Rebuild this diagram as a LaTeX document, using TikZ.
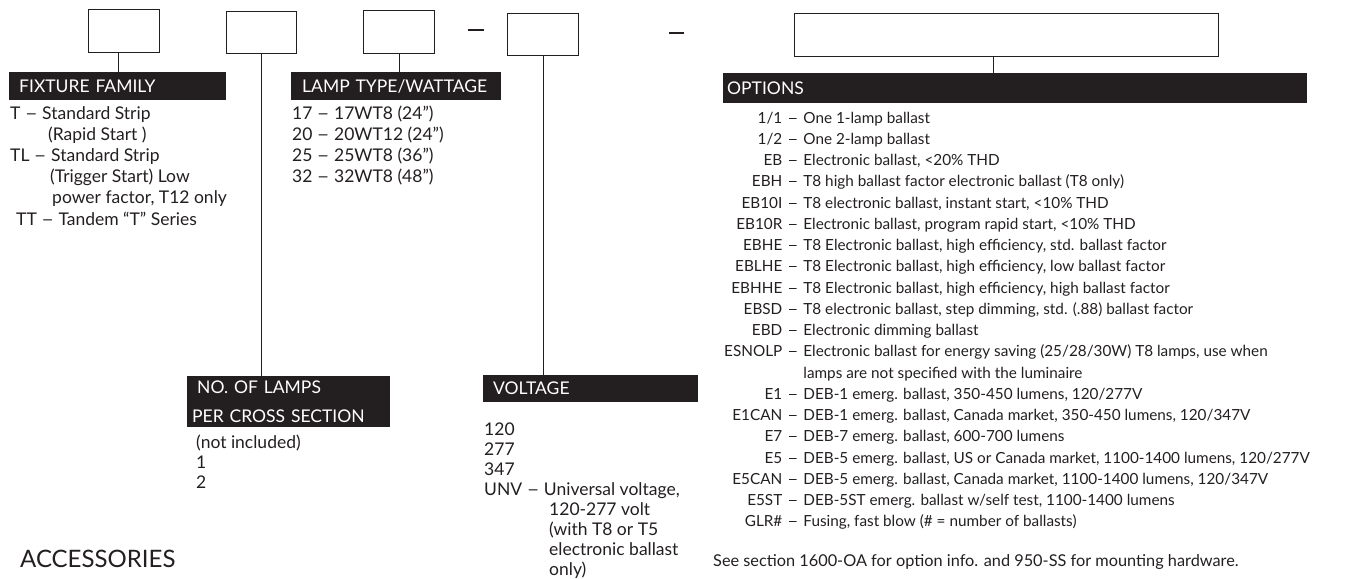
\documentclass[tikz,border=0pt]{standalone}
\usepackage{fontspec}
\setmainfont{Lato}
\usetikzlibrary{positioning}
\definecolor{ink}{HTML}{231F20}
\newcommand{\headfont}{\fontsize{17.5}{20}\selectfont}
\newcommand{\listfont}{\fontsize{17.5}{21.2}\selectfont}
\newcommand{\ndash}{\scalebox{1.25}[1]{--}}

\begin{document}
\begin{tikzpicture}[x=1pt,y=-1pt,
  codebox/.style={draw=ink,line width=1.2pt,anchor=north west,inner sep=0pt},
  headbar/.style={fill=ink,text=white,anchor=north west,inner ysep=0pt,minimum height=28pt,align=left,font=\headfont},
  listtext/.style={anchor=base west,inner sep=0pt,text=ink,font=\listfont},
  link/.style={draw=ink,line width=1.2pt}]
\useasboundingbox (0,0) rectangle (1364,578);

% code boxes
\node[codebox,minimum width=71pt,minimum height=43pt] (fambox) at (88,9) {};
\node[codebox,minimum width=70pt,minimum height=42pt] (lampsbox) at (226,11) {};
\node[codebox,minimum width=71pt,minimum height=43pt] (typebox) at (363,10) {};
\node[codebox,minimum width=71pt,minimum height=42pt] (voltbox) at (507,13) {};
\node[codebox,minimum width=424pt,minimum height=43pt] (optbox) at (794,13) {};
\draw[link,line width=1.5pt] (468,30) -- (484,30);
\draw[link,line width=1.5pt] (669,33) -- (684,33);

% headings
\node[headbar,inner xsep=10pt,text width=197pt] (famhead) at (9,72) {FIXTURE FAMILY};
\node[headbar,inner xsep=11pt,text width=188pt] (typehead) at (291,72) {LAMP TYPE/WATTAGE};
\node[headbar,inner xsep=4pt,text width=576pt,minimum height=30pt] (opthead) at (723,73) {OPTIONS};
\node[headbar,inner xsep=5pt,text width=193pt,minimum height=51pt,font={\fontsize{17.5}{29}\selectfont}] (lampshead) at (187,376) {\hspace*{5pt}NO. OF LAMPS\\PER CROSS SECTION};
\node[headbar,inner xsep=10pt,text width=195pt,minimum height=27pt] (volthead) at (483,375) {VOLTAGE};

% connectors
\draw[link] ([xshift=-6pt]fambox.south) -- ([xshift=-6pt]fambox.south |- famhead.north);
\draw[link] (lampsbox.south) -- (lampsbox.south |- lampshead.north);
\draw[link] (typebox.south) -- (typebox.south |- typehead.north);
\draw[link] (voltbox.south) -- (voltbox.south |- volthead.north);
\draw[link] ([xshift=-13pt]optbox.south) -- ([xshift=-13pt]optbox.south |- opthead.north);

% lists
\node[listtext] (famlist) at (10,119) {\begin{tabular}[t]{@{}l@{}}
T \ndash{} Standard Strip\\
\hspace*{38pt}(Rapid Start )\\
TL \ndash{} Standard Strip\\
\hspace*{40pt}(Trigger Start) Low\\
\hspace*{42pt}power factor, T12 only\\
\hspace*{6pt}TT \ndash{} Tandem ``T'' Series
\end{tabular}};
\node[listtext] (typelist) at (292,119) {\begin{tabular}[t]{@{}l@{}}
17 \ndash{} 17WT8 (24")\\
20 \ndash{} 20WT12 (24")\\
25 \ndash{} 25WT8 (36")\\
32 \ndash{} 32WT8 (48")
\end{tabular}};
\node[listtext,font={\fontsize{17.5}{20}\selectfont}] (lampslist) at (196,448) {\begin{tabular}[t]{@{}l@{}}
(not included)\\
1\\
2
\end{tabular}};
\node[listtext,font={\fontsize{17.5}{20.1}\selectfont}] (voltlist) at (484,435) {\begin{tabular}[t]{@{}l@{}}
120\\
277\\
347\\
UNV \ndash{} Universal voltage,\\
\hspace*{65pt}120-277 volt\\
\hspace*{65pt}(with T8 or T5\\
\hspace*{65pt}electronic ballast\\
\hspace*{65pt}only)
\end{tabular}};
\node[listtext,font={\fontsize{15.3}{21.26}\selectfont}] (optlist) at (724,123) {\begin{tabular}[t]{@{}r@{\hspace{5pt}}c@{\hspace{5pt}}l@{}}
1/1 & \ndash & One 1-lamp ballast\\
1/2 & \ndash & One 2-lamp ballast\\
EB & \ndash & Electronic ballast, <20\% THD\\
EBH & \ndash & T8 high ballast factor electronic ballast (T8 only)\\
EB10I & \ndash & T8 electronic ballast, instant start, <10\% THD\\
EB10R & \ndash & Electronic ballast, program rapid start, <10\% THD\\
EBHE & \ndash & T8 Electronic ballast, high efficiency, std. ballast factor\\
EBLHE & \ndash & T8 Electronic ballast, high efficiency, low ballast factor\\
EBHHE & \ndash & T8 Electronic ballast, high efficiency, high ballast factor\\
EBSD & \ndash & T8 electronic ballast, step dimming, std. (.88) ballast factor\\
EBD & \ndash & Electronic dimming ballast\\
ESNOLP & \ndash & Electronic ballast for energy saving (25/28/30W) T8 lamps, use when\\
 & & lamps are not specified with the luminaire\\
E1 & \ndash & DEB-1 emerg. ballast, 350-450 lumens, 120/277V\\
E1CAN & \ndash & DEB-1 emerg. ballast, Canada market, 350-450 lumens, 120/347V\\
E7 & \ndash & DEB-7 emerg. ballast, 600-700 lumens\\
E5 & \ndash & DEB-5 emerg. ballast, US or Canada market, 1100-1400 lumens, 120/277V\\
E5CAN & \ndash & DEB-5 emerg. ballast, Canada market, 1100-1400 lumens, 120/347V\\
E5ST & \ndash & DEB-5ST emerg. ballast w/self test, 1100-1400 lumens\\
GLR\# & \ndash & Fusing, fast blow (\# = number of ballasts)
\end{tabular}};
\node[listtext,font={\fontsize{16.3}{20}\selectfont}] (optnote) at (713,566) {See section 1600-OA for option info. and 950-SS for mounting hardware.};
\node[listtext,font={\fontsize{24}{27}\selectfont}] (acc) at (20,567) {ACCESSORIES};
\end{tikzpicture}
\end{document}
